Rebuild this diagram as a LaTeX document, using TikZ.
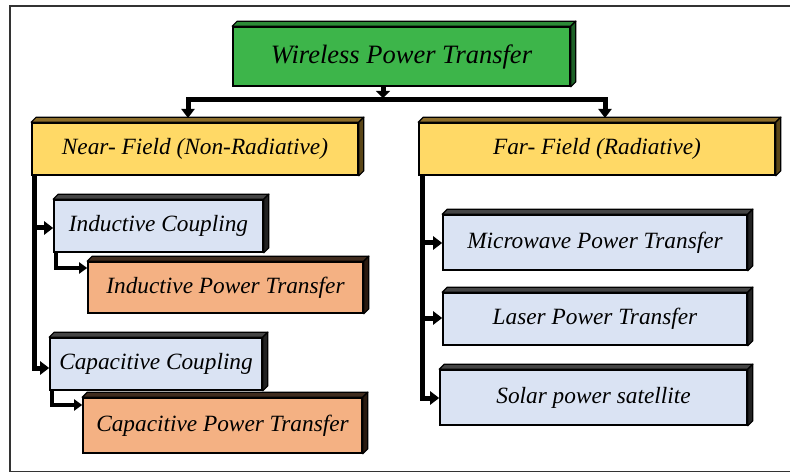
\documentclass[tikz,border=0pt]{standalone}
\usepackage{fontspec}
\setmainfont{Liberation Serif}
\usetikzlibrary{calc,arrows.meta}
\definecolor{gfill}{HTML}{3DB54A}
\definecolor{gtop}{HTML}{2C8A37}
\definecolor{gside}{HTML}{1C6026}
\definecolor{yfill}{HTML}{FFD966}
\definecolor{ytop}{HTML}{8C6D2A}
\definecolor{yside}{HTML}{5A4618}
\definecolor{bfill}{HTML}{DAE3F3}
\definecolor{btop}{HTML}{454545}
\definecolor{bside}{HTML}{222222}
\definecolor{ofill}{HTML}{F4B183}
\definecolor{otop}{HTML}{402C1E}
\definecolor{oside}{HTML}{2A1A10}
\definecolor{frame}{HTML}{333333}
\newcommand{\boxdepth}[3]{%
  \filldraw[fill=#2,draw=black,line width=1.2pt,line join=round] (#1.north west) -- ++(5,-5) -- ($(#1.north east)+(5,-5)$) -- (#1.north east) -- cycle;
  \filldraw[fill=#3,draw=black,line width=1.2pt,line join=round] (#1.north east) -- ++(5,-5) -- ($(#1.south east)+(5,-5)$) -- (#1.south east) -- cycle;
}
\tikzset{
  cube/.style={draw=black, line width=1.6pt, inner sep=0pt, font=\fontsize{23.3}{27}\selectfont\itshape},
  titlecube/.style={cube, font=\fontsize{26.5}{30}\selectfont\itshape},
  conn/.style={line width=5pt, -{Triangle[length=9pt,width=13pt]}},
  subconn/.style={line width=4pt, -{Triangle[length=8pt,width=11pt]}},
}
\begin{document}
\begin{tikzpicture}[x=1pt,y=-1pt]
\useasboundingbox (0,0) rectangle (790,473);
\draw[frame, line width=1.5pt] (792,6) -- (10,6) -- (10,471.5) -- (792,471.5);

\node[titlecube, fill=gfill, minimum width=337pt, minimum height=59pt] (wpt) at (401.5,56.5) {Wireless Power Transfer};
\node[cube, fill=yfill, minimum width=326pt, minimum height=52pt] (nf) at (195,149) {Near- Field (Non-Radiative)};
\node[cube, fill=yfill, minimum width=356pt, minimum height=52pt] (ff) at (597,149) {Far- Field (Radiative)};
\node[cube, fill=bfill, minimum width=209pt, minimum height=52pt] (ic) at (158.5,226) {Inductive Coupling};
\node[cube, fill=ofill, minimum width=275pt, minimum height=51pt] (ipt) at (225.5,287.5) {Inductive Power Transfer};
\node[cube, fill=bfill, minimum width=212pt, minimum height=52pt] (cc) at (156,364) {Capacitive Coupling};
\node[cube, fill=ofill, minimum width=279pt, minimum height=55pt] (cpt) at (222.5,425.5) {Capacitive Power Transfer};
\node[cube, fill=bfill, minimum width=304pt, minimum height=55pt] (mpt) at (595,242.5) {Microwave Power Transfer};
\node[cube, fill=bfill, minimum width=304pt, minimum height=52pt] (lpt) at (595,319) {Laser Power Transfer};
\node[cube, fill=bfill, minimum width=307pt, minimum height=55pt] (sps) at (593.5,397.5) {Solar power satellite};

\boxdepth{wpt}{gtop}{gside}
\boxdepth{nf}{ytop}{yside}
\boxdepth{ff}{ytop}{yside}
\boxdepth{ic}{btop}{bside}
\boxdepth{ipt}{otop}{oside}
\boxdepth{cc}{btop}{bside}
\boxdepth{cpt}{otop}{oside}
\boxdepth{mpt}{btop}{bside}
\boxdepth{lpt}{btop}{bside}
\boxdepth{sps}{btop}{bside}

% top tree
\coordinate (stem) at (383,86);
\coordinate (barL) at (188,100);
\coordinate (barR) at (605,100);
\draw[line width=5pt, line cap=butt] (barL) -- (barR);
\draw[line width=5pt, -{Triangle[length=7pt,width=14pt]}] (stem) -- (383,98);
\draw[conn] ($(barL)+(0,-2.5)$) -- (188,118);
\draw[conn] ($(barR)+(0,-2.5)$) -- (605,118);

% left branch
\coordinate (lv) at (34,175);
\coordinate (lvb) at (34,368);
\draw[line width=5pt] (lv) -- ($(lvb)+(0,2.5)$);
\draw[conn] (34,228) -- (ic.west |- 0,228);
\draw[conn] (lvb) -- (cc.west |- 0,368);
\coordinate (icb) at (56,252);
\draw[subconn] (icb) -- (56,268) -- (ipt.west |- 0,268);
\coordinate (ccb) at (52,390);
\draw[subconn] (ccb) -- (52,405) -- (cpt.west |- 0,405);

% right branch
\coordinate (rv) at (422,175);
\coordinate (rvb) at (422,398);
\draw[line width=5pt] (rv) -- ($(rvb)+(0,2.5)$);
\draw[conn] (422,243) -- (mpt.west |- 0,243);
\draw[conn] (422,318) -- (lpt.west |- 0,318);
\draw[conn] (rvb) -- (sps.west |- 0,398);
\end{tikzpicture}
\end{document}
